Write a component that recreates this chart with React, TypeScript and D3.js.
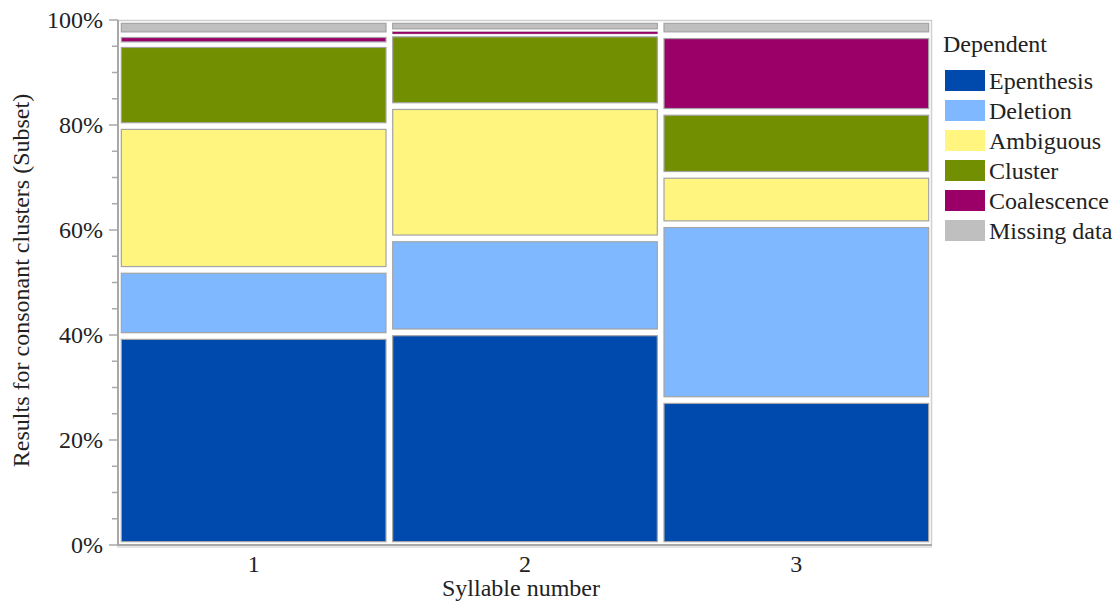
import React from "react";
import * as d3 from "d3";

const categories = ["1", "2", "3"];
const seriesNames = ["Epenthesis", "Deletion", "Ambiguous", "Cluster", "Coalescence", "Missing data"];
const epenthesis = [39.8, 40.5, 27.6];
const deletion = [12.6, 17.9, 33.5];
const ambiguous = [27.4, 25.2, 9.4];
const cluster = [15.5, 13.5, 12.0];
const coalescence = [1.9, 0.9, 14.6];
const missing = [2.8, 2.0, 2.9];
const colors = ["#004AAD", "#7FB8FF", "#FFF57F", "#718F00", "#9A0068", "#BFBFBF"];
const yTicks = [0, 20, 40, 60, 80, 100];
const yMinorTicks = d3.range(0, 101, 5);

const series = [epenthesis, deletion, ambiguous, cluster, coalescence, missing];

export default function App() {
  const W = 1118, H = 601;
  const left = 118, right = 932, top = 20, bottom = 545;
  const x = d3.scaleBand().domain(categories).range([left, right]).paddingInner(0).paddingOuter(0);
  const y = d3.scaleLinear().domain([0, 100]).range([bottom, top]);
  const font = "'Liberation Serif', 'Times New Roman', serif";
  const fs = 24;
  const edge = 2.75;

  const tiles: any[] = [];
  categories.forEach((c, ci) => {
    const total = d3.sum(series, (s) => s[ci]);
    const bounds: number[] = [0];
    series.forEach((s) => bounds.push(bounds[bounds.length - 1] + (s[ci] / total) * 100));
    const slots = series.map((_, si) => y(bounds[si]) - y(bounds[si + 1]));
    series.forEach((s, si) => {
      const yBot = y(bounds[si]);
      const yTop = y(bounds[si + 1]);
      const gapBelow = si === 0 ? edge : Math.min(edge, 0.22 * Math.min(slots[si], slots[si - 1]));
      const gapAbove = si === series.length - 1 ? edge : Math.min(edge, 0.22 * Math.min(slots[si], slots[si + 1]));
      const t = yTop + gapAbove;
      const b = yBot - gapBelow;
      const x0 = x(c)! + edge;
      const w = x.bandwidth() - edge * 2;
      const small = b - t < 5;
      const sw = small ? 0.4 : 1.2;
      tiles.push(
        <rect key={c + "-" + si} x={x0 + sw / 2} y={t + sw / 2} width={w - sw} height={Math.max(0.5, b - t - sw)}
          fill={colors[si]} stroke="#a4a4a4" strokeWidth={sw} />
      );
    });
  });

  return (
    <svg width={W} height={H} style={{ position: "absolute", left: 0, top: 0, background: "#fff" }}>
      {tiles}
      <line x1={left} x2={right} y1={top + 0.5} y2={top + 0.5} stroke="#cfcfcf" strokeWidth={1.5} />
      <line x1={right - 0.5} x2={right - 0.5} y1={top} y2={bottom} stroke="#cfcfcf" strokeWidth={1.5} />
      <line x1={left} x2={left} y1={top} y2={bottom} stroke="#a8a8a8" strokeWidth={2} />
      <line x1={left - 1} x2={right} y1={bottom} y2={bottom} stroke="#a8a8a8" strokeWidth={2} />
      <line x1={left - 1} x2={right} y1={bottom + 2} y2={bottom + 2} stroke="#dcdcdc" strokeWidth={1.5} />
      {yMinorTicks.map((t) => (
        <line key={"m" + t} x1={left - (t % 20 === 0 ? 9 : 6)} x2={left} y1={y(t)} y2={y(t)} stroke="#a8a8a8" strokeWidth={1.5} />
      ))}
      {yTicks.map((t) => (
        <text key={"t" + t} x={103} y={y(t)} dy="0.35em" textAnchor="end" fontFamily={font} fontSize={fs} fill="#222">
          {t + "%"}
        </text>
      ))}
      {categories.map((c) => (
        <text key={"c" + c} x={x(c)! + x.bandwidth() / 2} y={572} textAnchor="middle" fontFamily={font} fontSize={fs} fill="#222">
          {c}
        </text>
      ))}
      <text x={(left + right) / 2 - 4} y={596} textAnchor="middle" fontFamily={font} fontSize={fs} fill="#222">
        Syllable number
      </text>
      <text transform={`translate(29, ${(top + bottom) / 2 - 2}) rotate(-90)`} textAnchor="middle" fontFamily={font} fontSize={fs} fill="#222">
        Results for consonant clusters (Subset)
      </text>
      <text x={943} y={52} fontFamily={font} fontSize={fs} fill="#222">Dependent</text>
      {seriesNames.map((n, i) => (
        <g key={n} transform={`translate(945, ${70 + i * 30})`}>
          <rect x={0} y={0} width={40} height={21} fill={colors[i]} />
          <text x={44} y={19} fontFamily={font} fontSize={fs} fill="#222">{n}</text>
        </g>
      ))}
    </svg>
  );
}
